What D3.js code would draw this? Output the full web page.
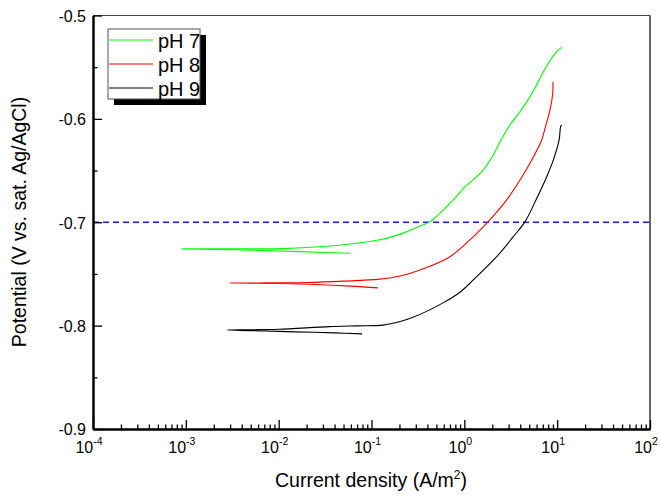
<!DOCTYPE html>
<html><head><meta charset="utf-8">
<script src="https://cdn.jsdelivr.net/npm/d3@7/dist/d3.min.js"></script>
<style>
body{margin:0;background:#fff;}
svg{display:block;font-family:"Liberation Sans",Arial,sans-serif;}
</style></head>
<body>
<svg id="chart" width="661" height="495"></svg>
<script>
// ---- data (current density A/m², potential V) ----
const seriesNames = ["pH 7", "pH 8", "pH 9"];
const seriesColors = ["#00ff00", "#ff0000", "#000000"];
// scans run from the cathodic end, through Ecorr, up the anodic branch
const ph7Current = [0.059, 0.03, 0.012, 0.005, 0.002, 0.0009, 0.0015, 0.004, 0.011, 0.03, 0.059, 0.123, 0.204, 0.333, 0.427, 0.76, 1.02, 1.54, 2.05, 2.48, 3.10, 3.98, 5.10, 6.53, 8.03, 9.89, 11.2];
const ph7Potential = [-0.730, -0.7292, -0.7280, -0.7270, -0.7262, -0.7258, -0.7258, -0.7257, -0.7255, -0.7235, -0.7210, -0.7170, -0.7115, -0.7036, -0.6994, -0.6784, -0.6656, -0.6511, -0.6349, -0.6204, -0.6059, -0.5930, -0.5785, -0.5607, -0.5462, -0.5350, -0.5308];
const ph8Current = [0.117, 0.06, 0.025, 0.01, 0.005, 0.003, 0.006, 0.02, 0.05, 0.123, 0.204, 0.333, 0.70, 1.25, 1.81, 2.86, 3.98, 5.32, 6.81, 7.4, 8.37, 8.96, 9.0];
const ph8Potential = [-0.7635, -0.7618, -0.7602, -0.7593, -0.7589, -0.7587, -0.7587, -0.7583, -0.7570, -0.7550, -0.7520, -0.7461, -0.7333, -0.7139, -0.6994, -0.6784, -0.6591, -0.6397, -0.6204, -0.6091, -0.5914, -0.5752, -0.5640];
const ph9Current = [0.079, 0.04, 0.015, 0.007, 0.0028, 0.005, 0.01, 0.035, 0.07, 0.133, 0.204, 0.28, 0.59, 0.89, 1.25, 2.23, 3.37, 4.51, 6.03, 7.72, 9.1, 10.5, 10.9, 11.2];
const ph9Potential = [-0.8080, -0.8070, -0.8060, -0.8052, -0.8043, -0.8040, -0.8035, -0.8010, -0.8002, -0.7995, -0.7960, -0.7920, -0.7780, -0.7680, -0.7558, -0.7333, -0.7139, -0.6994, -0.6768, -0.6559, -0.6397, -0.6204, -0.6075, -0.6059];
const referenceLine = -0.7;
const xDomain = [1e-4, 1e2];
const yDomain = [-0.9, -0.5];
const xMajorTicks = [1e-4, 1e-3, 1e-2, 1e-1, 1e0, 1e1, 1e2];
const xTickExponents = ["-4", "-3", "-2", "-1", "0", "1", "2"];
const yMajorTicks = [-0.9, -0.8, -0.7, -0.6, -0.5];
const yTickLabels = ["-0.9", "-0.8", "-0.7", "-0.6", "-0.5"];
const yMinorTicks = [-0.85, -0.75, -0.65, -0.55];
const xLabel = "Current density (A/m";
const yLabel = "Potential (V vs. sat. Ag/AgCl)";

const series = [
  {name: seriesNames[0], color: seriesColors[0], x: ph7Current, y: ph7Potential},
  {name: seriesNames[1], color: seriesColors[1], x: ph8Current, y: ph8Potential},
  {name: seriesNames[2], color: seriesColors[2], x: ph9Current, y: ph9Potential}
];

// ---- layout ----
const L = 93, R = 650, T = 15.5, B = 429;
const svg = d3.select("#chart");
const x = d3.scaleLog().domain(xDomain).range([L, R]);
const y = d3.scaleLinear().domain(yDomain).range([B, T]);

// minor x ticks
const xMinor = [];
for (let e = -4; e < 2; e++) for (let m = 2; m <= 9; m++) xMinor.push(m * Math.pow(10, e));

// frame top/right
svg.append("line").attr("x1", L).attr("x2", R).attr("y1", T).attr("y2", T).attr("stroke", "#444").attr("stroke-width", 1.2);
svg.append("line").attr("x1", R).attr("x2", R).attr("y1", T).attr("y2", B).attr("stroke", "#000").attr("stroke-width", 1.2);

// reference line
svg.append("line").attr("x1", L).attr("x2", R).attr("y1", y(referenceLine)).attr("y2", y(referenceLine))
  .attr("stroke", "#1a1aff").attr("stroke-width", 1.3).attr("stroke-dasharray", "6,4");

// curves
const line = d3.line().x(d => x(d[0])).y(d => y(d[1])).curve(d3.curveCatmullRom.alpha(0.5));
series.forEach(s => {
  const pts = s.x.map((v, i) => [v, s.y[i]]);
  svg.append("path").attr("d", line(pts)).attr("fill", "none").attr("stroke", s.color).attr("stroke-width", 1.1);
});

// bottom axis
const gx = svg.append("g").attr("transform", `translate(0,${B})`);
gx.call(d3.axisBottom(x).tickValues(xMinor).tickSizeInner(-4.5).tickSizeOuter(0).tickFormat(""));
const gxM = svg.append("g").attr("transform", `translate(0,${B})`);
gxM.call(d3.axisBottom(x).tickValues(xMajorTicks).tickSizeInner(-9).tickSizeOuter(0).tickFormat(""));
[gx, gxM].forEach(g => { g.select(".domain").attr("stroke-width", 2); g.selectAll(".tick line").attr("stroke-width", 1.3); });
xMajorTicks.forEach((v, i) => {
  const t = svg.append("text").attr("x", x(v) - 4).attr("y", 453).attr("text-anchor", "middle")
    .attr("font-size", 16).attr("fill", "#000");
  t.append("tspan").text("10");
  t.append("tspan").attr("dy", -8).attr("font-size", 10.5).text(xTickExponents[i]);
});

// left axis
const gy = svg.append("g").attr("transform", `translate(${L},0)`);
gy.call(d3.axisLeft(y).tickValues(yMinorTicks).tickSizeInner(-4.5).tickSizeOuter(0).tickFormat(""));
const gyM = svg.append("g").attr("transform", `translate(${L},0)`);
gyM.call(d3.axisLeft(y).tickValues(yMajorTicks).tickSizeInner(-9).tickSizeOuter(0)
  .tickFormat((d, i) => yTickLabels[i]).tickPadding(7));
[gy, gyM].forEach(g => { g.select(".domain").attr("stroke-width", 2); g.selectAll(".tick line").attr("stroke-width", 1.3); });
gyM.selectAll(".tick text").attr("font-size", 16).attr("font-family", "Liberation Sans, Arial, sans-serif").attr("dy", "0.36em").attr("fill", "#000")
  .attr("x", -7);

// axis titles
const xt = svg.append("text").attr("x", 371).attr("y", 487).attr("text-anchor", "middle").attr("font-size", 19.5).attr("fill", "#000");
xt.append("tspan").text(xLabel);
xt.append("tspan").attr("dy", -8).attr("font-size", 12).text("2");
xt.append("tspan").attr("dy", 8).text(")");
svg.append("text").attr("transform", "translate(26,222) rotate(-90)").attr("text-anchor", "middle")
  .attr("font-size", 19.5).attr("fill", "#000").text(yLabel);

// legend
const lg = svg.append("g");
lg.append("rect").attr("x", 114).attr("y", 35).attr("width", 92).attr("height", 70).attr("fill", "#000");
lg.append("rect").attr("x", 108).attr("y", 29).attr("width", 92).attr("height", 70).attr("fill", "#fff").attr("stroke", "#555").attr("stroke-width", 1);
series.forEach((s, i) => {
  const yy = 40 + i * 24;
  lg.append("line").attr("x1", 109).attr("x2", 153).attr("y1", yy).attr("y2", yy).attr("stroke", s.color).attr("stroke-width", 1.2);
  lg.append("text").attr("x", 158).attr("y", yy + 7.5).attr("font-size", 20).attr("fill", "#000").text(s.name);
});
</script>
</body></html>
